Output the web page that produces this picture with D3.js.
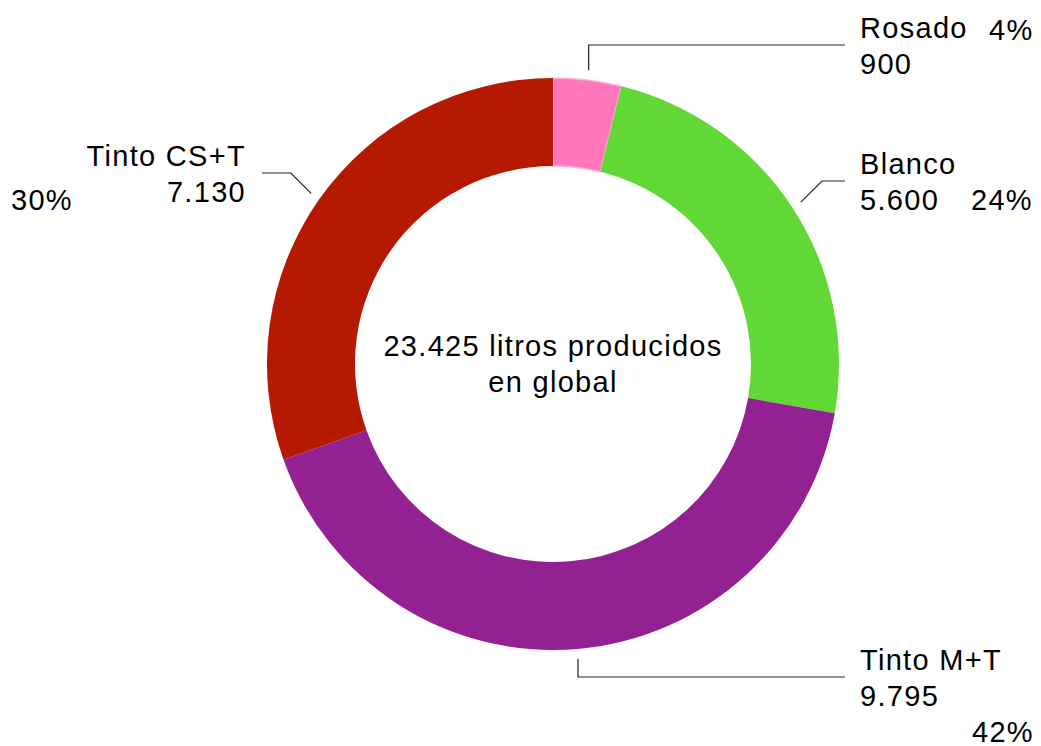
<!DOCTYPE html>
<html>
<head>
<meta charset="utf-8">
<script src="https://cdn.jsdelivr.net/npm/d3@7"></script>
<style>
  html, body { margin: 0; padding: 0; background: #fff; }
  svg text { font-family: "Helvetica Neue", Helvetica, "Liberation Sans", Arial, sans-serif; font-size: 29px; letter-spacing: 1.3px; fill: #000; }
</style>
</head>
<body>
<div id="chart"></div>
<script>
// Chart data
var categories = ["Rosado", "Blanco", "Tinto M+T", "Tinto CS+T"];
var values = [900, 5600, 9795, 7130];
var valueLabels = ["900", "5.600", "9.795", "7.130"];
var percentLabels = ["4%", "24%", "42%", "30%"];
var colors = ["#FF76BB", "#61D836", "#942192", "#B51A00"];
var centerLines = ["23.425 litros producidos", "en global"];

// Dimensions of donut.
var width = 1041;
var height = 746;
var cx = 553, cy = 364;
var outerR = 286, innerR = 198;

// Label layout: line y of each leader, side, bend style, percent position.
var layout = [
    {lineY: 45,  side: "right", bend: "vertical", pctX: 989, pctY: 40},
    {lineY: 181, side: "right", bend: "diagonal", pctX: 971, pctY: 210},
    {lineY: 677, side: "right", bend: "vertical", pctX: 972, pctY: 742},
    {lineY: 173, side: "left",  bend: "diagonal", pctX: 11,  pctY: 210}
];

var svg = d3.select("#chart").append("svg")
    .attr("width", width)
    .attr("height", height);

var g = svg.append("g")
    .attr("transform", "translate(" + cx + "," + cy + ")");

var pie = d3.pie().sort(null).value(function(d) { return d; });
var arcs = pie(values);

var arc = d3.arc().innerRadius(innerR).outerRadius(outerR);

g.selectAll("path.slice")
    .data(arcs)
    .enter().append("path")
    .attr("class", "slice")
    .attr("d", arc)
    .style("fill", function(d, i) { return colors[i]; })
    .style("stroke", function(d, i) { return i === 0 ? "#FFB3D8" : "none"; })
    .style("stroke-width", 1.5);

// Center text
g.selectAll("text.center")
    .data(centerLines)
    .enter().append("text")
    .attr("class", "center")
    .attr("text-anchor", "middle")
    .attr("x", 0)
    .attr("y", function(d, i) { return -8 + i * 36; })
    .text(function(d) { return d; });

// Leader lines and labels
var leaderR = outerR + 10;
arcs.forEach(function(d, i) {
    var L = layout[i];
    var mid = (d.startAngle + d.endAngle) / 2;
    var sx = cx + leaderR * Math.sin(mid);
    var sy = cy - leaderR * Math.cos(mid);
    var ex, ey = L.lineY;
    if (L.bend === "vertical") {
        ex = sx;
    } else {
        var dy = Math.abs(ey - sy);
        ex = L.side === "right" ? sx + dy : sx - dy;
    }
    var endX = L.side === "right" ? 845 : 262;
    svg.append("path")
        .attr("d", "M" + sx + "," + sy + "L" + ex + "," + ey + "L" + endX + "," + ey)
        .style("fill", "none")
        .style("stroke", "#222")
        .style("stroke-width", 1.2);

    var tx = L.side === "right" ? 860 : 246;
    var anchor = L.side === "right" ? "start" : "end";
    svg.append("text")
        .attr("x", tx)
        .attr("y", ey - 7)
        .attr("text-anchor", anchor)
        .text(categories[i]);
    svg.append("text")
        .attr("x", tx)
        .attr("y", ey + 29)
        .attr("text-anchor", anchor)
        .text(valueLabels[i]);
    svg.append("text")
        .attr("x", L.pctX)
        .attr("y", L.pctY)
        .text(percentLabels[i]);
});
</script>
</body>
</html>
